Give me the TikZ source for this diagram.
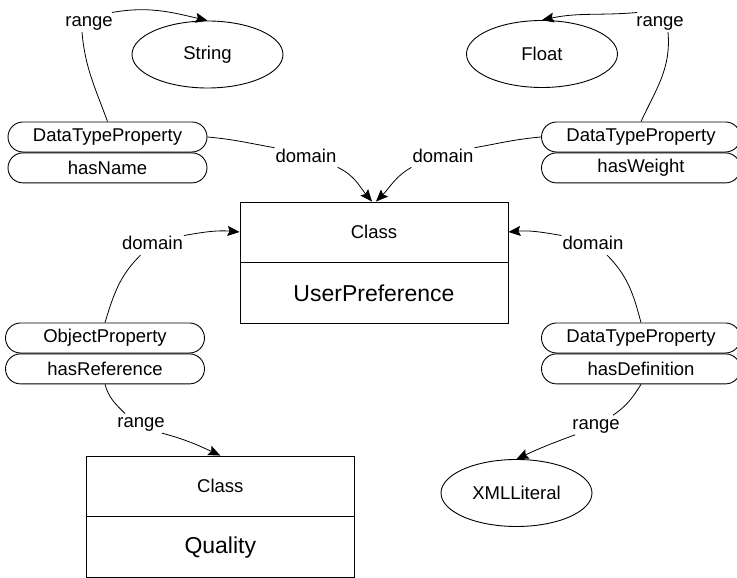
\documentclass[tikz,border=0pt]{standalone}
\usepackage{fontspec}
\setmainfont{Liberation Sans}
\usetikzlibrary{arrows.meta,shapes.geometric}
\begin{document}
\begin{tikzpicture}[x=1pt,y=1pt,
  every node/.style={font=\fontsize{18.5}{22}\selectfont},
  lbl/.style={inner sep=1pt, text height=13.3pt, text depth=3.9pt},
  prop/.style={draw, line width=0.9pt, rounded corners=15pt, minimum width=199pt, minimum height=30pt, inner sep=0pt},
  lit/.style={draw, line width=0.9pt, ellipse, minimum width=151pt, minimum height=67pt, inner sep=0pt},
  cls/.style={draw, line width=0.9pt, minimum width=268pt, minimum height=60pt, inner sep=0pt},
  big/.style={font=\fontsize{23}{27}\selectfont},
  conn/.style={line width=0.8pt},
  arr/.style={conn, -{Stealth[length=12pt,width=10pt,inset=2pt]}},
]
\useasboundingbox (0,0) rectangle (737,578);
\clip (0,0) rectangle (737,578);

% literal ellipses
\node[lit] (str) at (207.5,523.5) {String};
\node[lit] (flt) at (542,524) {Float};
\node[lit] (xml) at (516.5,85) {XMLLiteral};

% classes
\node[cls] (upc) at (374,346) {Class};
\node[cls,big,minimum height=61pt,anchor=north] (upn) at (upc.south) {UserPreference};
\node[cls] (qc) at (220.3,92) {Class};
\node[cls,big,minimum height=61pt,anchor=north] (qn) at (qc.south) {Quality};

% properties
\node[prop] (p1t) at (107.5,441) {DataTypeProperty};
\node[prop,anchor=north] (p1b) at (p1t.south) {hasName};
\node[prop] (p2t) at (641,441) {DataTypeProperty};
\node[prop,anchor=north] (p2b) at (p2t.south) {hasWeight};
\node[prop] (p3t) at (105,240) {ObjectProperty};
\node[prop,anchor=north] (p3b) at (p3t.south) {hasReference};
\node[prop] (p4t) at (641,240) {DataTypeProperty};
\node[prop,anchor=north] (p4b) at (p4t.south) {hasDefinition};

% labels
\node[lbl] (r1) at (89,555.7) {range};
\node[lbl] (d1) at (306,420.5) {domain};
\node[lbl] (d2) at (443,420.5) {domain};
\node[lbl] (r2) at (660,555.7) {range};
\node[lbl] (d3) at (152.5,332.7) {domain};
\node[lbl] (d4) at (593,332.7) {domain};
\node[lbl] (r3) at (141,154.7) {range};
\node[lbl] (r4) at (596,153) {range};

% connectors
\draw[conn] (p1t.north) to[out=110,in=-85] ([xshift=-7pt]r1.south);
\draw[arr] ([xshift=-2pt]r1.north east) to[out=10,in=167] (str.north);
\draw[conn] (p1t.east) to[out=-5,in=170] (d1.north west);
\draw[arr] (d1.south east) to[out=-25,in=130] ([xshift=-2pt]upc.north);
\draw[conn] (p2t.west) to[out=185,in=10] (d2.north east);
\draw[arr] (d2.south west) to[out=210,in=45] ([xshift=2pt]upc.north);
\draw[conn] (p2t.north) to[out=65,in=-85] ([xshift=8pt]r2.south);
\draw[arr] ([xshift=2pt]r2.north west) to[out=185,in=12] (flt.north);
\draw[conn] (p3t.north) to[out=73,in=-135] ([xshift=-12pt]d3.south);
\draw[arr] (d3.north east) to[out=10,in=175] (upc.west);
\draw[conn] (p4t.north) to[out=105,in=-45] ([xshift=14pt]d4.south);
\draw[arr] (d4.north west) to[out=170,in=5] (upc.east);
\draw[conn] (p3b.south) to[out=-75,in=135] ([xshift=-16pt]r3.north);
\draw[arr] ([xshift=-4pt]r3.south east) to[out=-15,in=155] (qc.north);
\draw[conn] (p4b.south) to[out=238,in=34] ([xshift=17pt]r4.north);
\draw[arr] ([xshift=4pt]r4.south west) to[out=200,in=25] (xml.north);
\end{tikzpicture}
\end{document}
